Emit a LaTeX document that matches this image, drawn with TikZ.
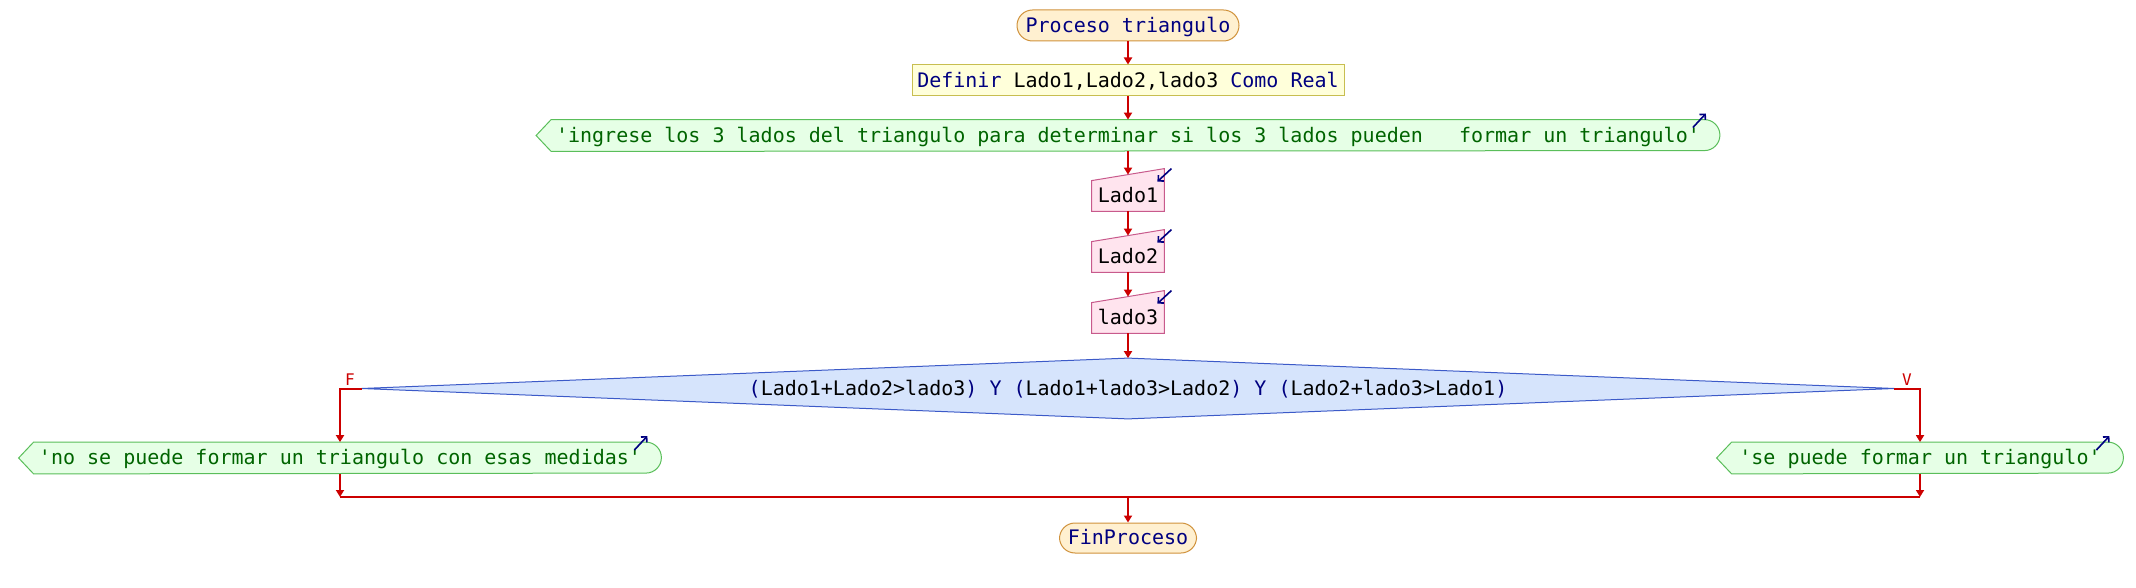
\documentclass[tikz,border=0pt]{standalone}
\usepackage{fontspec}
\newfontfamily\pse{DejaVu Sans Mono}
\usetikzlibrary{arrows.meta,backgrounds}
\definecolor{rojo}{RGB}{204,0,0}
\definecolor{azul}{RGB}{0,0,128}
\definecolor{termF}{RGB}{255,240,208}
\definecolor{termB}{RGB}{208,146,60}
\definecolor{defF}{RGB}{255,255,218}
\definecolor{defB}{RGB}{200,190,80}
\definecolor{verdeF}{RGB}{230,255,230}
\definecolor{verdeB}{RGB}{90,190,90}
\definecolor{verdeT}{RGB}{0,100,0}
\definecolor{entF}{RGB}{255,228,238}
\definecolor{entB}{RGB}{200,90,140}
\definecolor{decF}{RGB}{214,228,252}
\definecolor{decB}{RGB}{60,90,200}
\begin{document}
\begin{tikzpicture}[x=0.5pt, y=0.5pt]
\tikzstyle{every node} = [inner sep=0pt, text height=8.5pt, text depth=1.8pt, font=\pse\fontsize{10pt}{12pt}\selectfont]
\tikzstyle{terminal} = [rectangle, rounded corners=7.75pt, draw=termB, fill=termF, text=azul, line width=0.5pt, minimum height=15.5pt]
\tikzstyle{proceso} = [rectangle, draw=defB, fill=defF, line width=0.5pt, minimum height=15.5pt]
\tikzstyle{salida} = [rectangle, text=verdeT, minimum height=15.5pt]
\tikzstyle{entrada} = [rectangle, minimum width=36pt, minimum height=15pt]
\tikzstyle{flujo} = [draw=rojo, line width=1pt, -{Triangle[width=4pt,length=3.5pt]}]
\tikzstyle{marca} = [draw=azul, line width=0.8pt, -{Straight Barb[length=2pt,width=4pt]}]
\useasboundingbox (0,0) rectangle (2136,-588);
\node[terminal, minimum width=111pt] (inicio) at (1128,-25.5) {Proceso triangulo};
\node[proceso, minimum width=216pt] (def) at (1128,-80.5) {\textcolor{azul}{Definir} Lado1,Lado2,lado3 \textcolor{azul}{Como Real}};
\node[salida, minimum width=591.5pt] (msg1) at (1128,-135.5) {\textquotesingle ingrese los 3 lados del triangulo para determinar si los 3 lados pueden\ \ \ formar un triangulo\textquotesingle};
\node[entrada] (l1) at (1128,-196) {Lado1};
\node[entrada] (l2) at (1128,-257) {Lado2};
\node[entrada] (l3) at (1128,-318) {lado3};
\node[rectangle, minimum width=766pt, minimum height=30pt] (cond) at (1128,-388.5) {\textcolor{azul}{(}Lado1+Lado2>lado3\textcolor{azul}{) Y (}Lado1+lado3>Lado2\textcolor{azul}{) Y (}Lado2+lado3>Lado1\textcolor{azul}{)}};
\node[text=rojo, font=\pse\fontsize{8pt}{9pt}\selectfont] (etF) at (350,-379) {F};
\node[text=rojo, font=\pse\fontsize{8pt}{9pt}\selectfont] (etV) at (1907,-379) {V};
\node[salida, minimum width=321pt] (msgF) at (340,-458) {\textquotesingle no se puede formar un triangulo con esas medidas\textquotesingle};
\node[salida, minimum width=203pt] (msgV) at (1920,-458) {\textquotesingle se puede formar un triangulo\textquotesingle};
\node[terminal, minimum width=68.5pt, minimum height=15pt] (fin) at (1128,-538) {FinProceso};
\coordinate (jF) at (340,-497);
\coordinate (jV) at (1920,-497);
\coordinate (jC) at (1128,-497);
% formas de fondo
\begin{scope}[on background layer]
\foreach \m in {msg1, msgF, msgV}
\draw[draw=verdeB, fill=verdeF, line width=0.5pt] (\m.west) -- ([xshift=7.5pt]\m.north west) -- ([xshift=-7.75pt]\m.north east) arc[start angle=90, end angle=-90, radius=7.75pt] -- ([xshift=7.5pt]\m.south west) -- cycle;
\foreach \l in {l1, l2, l3}
\draw[draw=entB, fill=entF, line width=0.5pt] (\l.south west) -- (\l.north west) -- ([yshift=6pt]\l.north east) -- (\l.south east) -- cycle;
\draw[draw=decB, fill=decF, line width=0.5pt] (cond.west) -- (cond.north) -- (cond.east) -- (cond.south) -- cycle;
\end{scope}
\foreach \m in {msg1, msgF, msgV}
\draw[marca] ([shift={(-13.5pt,4pt)}]\m.east) -- ++(6.5pt,7pt);
\foreach \l in {l1, l2, l3}
\draw[marca] ([shift={(3.5pt,6pt)}]\l.north east) -- ++(-7pt,-6.5pt);
% flechas
\foreach \from/\to in {inicio/def, def/msg1, l3/cond, msgF/jF, msgV/jV, jC/fin}
\draw[flujo] (\from) -- (\to);
\foreach \from/\to in {msg1/l1, l1/l2, l2/l3}
\draw[flujo] (\from.south) -- ([yshift=3pt]\to.north);
\draw[flujo] (cond.west) -| (msgF.north);
\draw[flujo] (cond.east) -| (msgV.north);
\draw[rojo, line width=1pt] (jF) -- (jV);
\end{tikzpicture}
\end{document}
